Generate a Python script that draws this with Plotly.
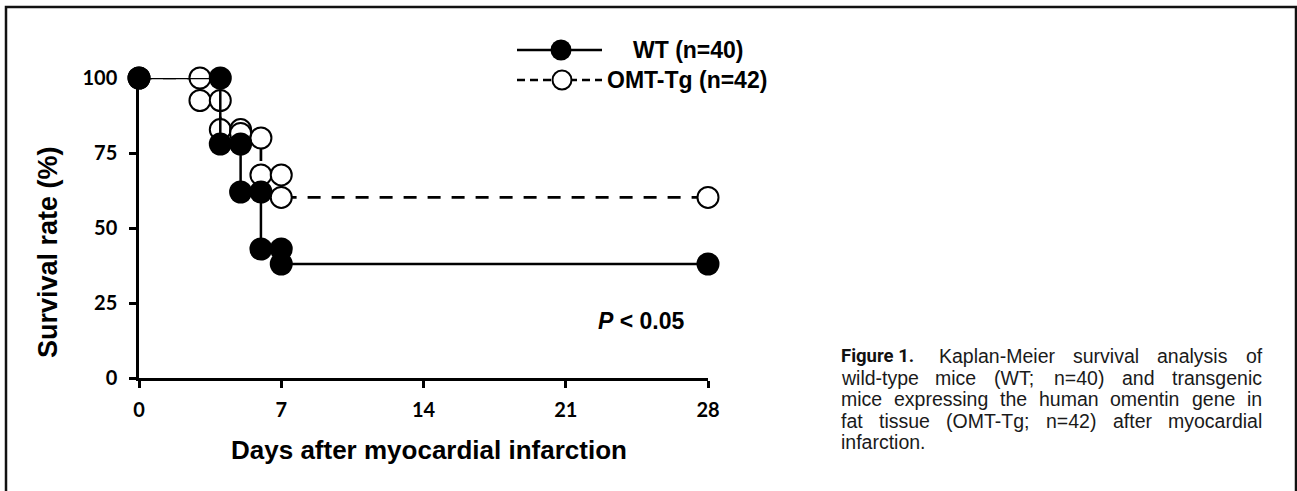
import plotly.graph_objects as go

# ---------------- data ----------------
wt_days = [0, 4, 4, 5, 5, 6, 6, 7, 7, 28]
wt_surv = [100, 100, 78, 78, 62, 62, 43, 43, 38, 38]

omt_days = [0, 3, 3, 4, 4, 5, 5, 6, 6, 7, 7, 28]
omt_surv = [100, 100, 92.5, 92.5, 82.8, 82.8, 81.5, 80, 67.7, 67.7, 60.2, 60.2]

x_ticks = [0, 7, 14, 21, 28]
y_ticks = [0, 25, 50, 75, 100]

wt_label = "WT (n=40)"
omt_label = "OMT-Tg (n=42)"
p_text = "<b><i>P</i> &lt; 0.05</b>"
x_title = "Days after myocardial infarction"
y_title = "Survival rate (%)"
fig_label = "Figure 1."
caption_lines = [
    "Kaplan-Meier survival analysis of",
    "wild-type mice (WT; n=40) and transgenic",
    "mice expressing the human omentin gene in",
    "fat tissue (OMT-Tg; n=42) after myocardial",
    "infarction.",
]

# ---------------- layout geometry ----------------
W, H = 1297, 491
L, R, T, B = 139, 708, 78, 378  # plot-area pixel box
PW, PH = R - L, B - T


def px(xp):
    return (xp - L) / PW


def py(yp):
    return (B - yp) / PH


fig = go.Figure()

fig.add_trace(go.Scatter(
    x=omt_days, y=omt_surv, mode="lines+markers", line_shape="hv",
    line=dict(color="black", width=2.7, dash="13px,11px"),
    marker=dict(size=21, color="white", line=dict(color="black", width=2)),
    cliponaxis=False, showlegend=False, name=omt_label))

fig.add_trace(go.Scatter(
    x=wt_days, y=wt_surv, mode="lines+markers",
    line=dict(color="black", width=2.5),
    marker=dict(size=23, color="black", line=dict(color="black", width=0)),
    cliponaxis=False, showlegend=False, name=wt_label))

tickfont = dict(family="Lato, Open Sans, sans-serif", size=20, color="black",
                weight=700)
fig.update_xaxes(range=[0, 28], tickvals=x_ticks, showline=True, linecolor="black",
                 linewidth=2.5, ticks="outside", ticklen=7, tickwidth=2.5,
                 tickcolor="black", showgrid=False, zeroline=False,
                 tickfont=tickfont, ticklabelstandoff=5)
fig.update_yaxes(range=[0, 100], tickvals=y_ticks, showline=True, linecolor="black",
                 linewidth=2.5, ticks="outside", ticklen=7, tickwidth=2.5,
                 tickcolor="black", showgrid=False, zeroline=False,
                 tickfont=tickfont, ticklabelstandoff=8)

annots = []
annots.append(dict(text="<b>%s</b>" % x_title, x=px(429), y=py(450), xref="paper",
                   yref="paper", showarrow=False,
                   font=dict(family="Liberation Sans, Arial, sans-serif", size=26,
                             color="black"),
                   xanchor="center", yanchor="middle"))
annots.append(dict(text="<b>%s</b>" % y_title, x=px(48), y=py(252), xref="paper",
                   yref="paper", showarrow=False,
                   font=dict(family="Liberation Sans, Arial, sans-serif", size=27,
                             color="black"),
                   textangle=-90, xanchor="center", yanchor="middle"))
annots.append(dict(text=p_text, x=px(596), y=py(321), xref="paper", yref="paper",
                   showarrow=False, xanchor="left", yanchor="middle",
                   font=dict(family="Liberation Sans, Arial, sans-serif", size=23,
                             color="black")))

# legend (drawn by hand)
leg_font = dict(family="Liberation Sans, Arial, sans-serif", size=23, color="black")
annots.append(dict(text="<b>%s</b>" % wt_label, x=px(631), y=py(50), xref="paper",
                   yref="paper", showarrow=False, xanchor="left", yanchor="middle",
                   font=leg_font))
annots.append(dict(text="<b>%s</b>" % omt_label, x=px(605), y=py(80), xref="paper",
                   yref="paper", showarrow=False, xanchor="left", yanchor="middle",
                   font=leg_font))

shapes = []
shapes.append(dict(type="line", xref="paper", yref="paper", x0=px(517), x1=px(602),
                   y0=py(50), y1=py(50), line=dict(color="black", width=2.5)))
shapes.append(dict(type="line", xref="paper", yref="paper", x0=px(517), x1=px(602),
                   y0=py(80), y1=py(80), line=dict(color="black", width=2.5,
                                                    dash="8px,5px")))
shapes.append(dict(type="circle", xref="paper", yref="paper", xsizemode="pixel",
                   ysizemode="pixel", xanchor=px(561), yanchor=py(50),
                   x0=-10.5, x1=10.5, y0=-10.5, y1=10.5, fillcolor="black",
                   line=dict(color="black", width=0)))
shapes.append(dict(type="circle", xref="paper", yref="paper", xsizemode="pixel",
                   ysizemode="pixel", xanchor=px(562), yanchor=py(80),
                   x0=-9.5, x1=9.5, y0=-9.5, y1=9.5, fillcolor="white",
                   line=dict(color="black", width=2)))
# outer frame
shapes.append(dict(type="rect", xref="paper", yref="paper", x0=px(6), x1=px(1296),
                   y0=py(520), y1=py(7), line=dict(color="#111111", width=2.5),
                   layer="below"))

# caption, justified word by word (Arial metrics)
AW = {' ': 278, '(': 333, ')': 333, '-': 333, '.': 278, ';': 278, '=': 584}
for d in "0123456789":
    AW[d] = 556
AW.update(dict(A=667, B=667, C=722, D=722, E=667, F=611, G=778, H=722, I=278, J=500,
               K=667, L=556, M=833, N=722, O=778, P=667, Q=778, R=722, S=667, T=611,
               U=722, V=667, W=944, X=667, Y=667, Z=611))
AW.update(dict(a=556, b=556, c=500, d=556, e=556, f=278, g=556, h=556, i=222, j=222,
               k=500, l=222, m=833, n=556, o=556, p=556, q=556, r=333, s=500, t=278,
               u=556, v=500, w=722, x=500, y=500, z=500))

cap_size = 19.5
cap_font = dict(family="Liberation Sans, Arial, Helvetica, sans-serif", size=cap_size,
                color="#1a1a1a")


def wwidth(word):
    return sum(AW.get(ch, 556) for ch in word) * cap_size / 1000.0


cap_left, cap_right = 841, 1262
cap_base = [363, 384.5, 406, 427.5, 449]
annots.append(dict(text=fig_label, x=px(cap_left - 2), y=py(cap_base[0] - 7),
                   xref="paper", yref="paper", showarrow=False, xanchor="left",
                   yanchor="middle",
                   font=dict(family="Roboto, Liberation Sans, sans-serif",
                             size=18.5, weight=700, color="#111111")))
for i, line in enumerate(caption_lines):
    words = line.split(" ")
    left = 939 if i == 0 else cap_left
    yy = py(cap_base[i] - 7)
    if i == len(caption_lines) - 1:
        annots.append(dict(text=line, x=px(left - 2), y=yy, xref="paper", yref="paper",
                           showarrow=False, xanchor="left", yanchor="middle",
                           font=cap_font))
        continue
    widths = [wwidth(w) for w in words]
    gap = (cap_right - left - sum(widths)) / (len(words) - 1)
    xcur = left
    for w, wd in zip(words, widths):
        annots.append(dict(text=w, x=px(xcur - 2), y=yy, xref="paper", yref="paper",
                           showarrow=False, xanchor="left", yanchor="middle",
                           font=cap_font))
        xcur += wd + gap

fig.update_layout(width=W, height=H, margin=dict(l=L, r=W - R, t=T, b=H - B),
                  paper_bgcolor="white", plot_bgcolor="white",
                  annotations=annots, shapes=shapes, showlegend=False)

fig.write_html("out.html", config={"displayModeBar": False},
               post_script="document.body.style.margin='0';document.body.style.padding='0';")
